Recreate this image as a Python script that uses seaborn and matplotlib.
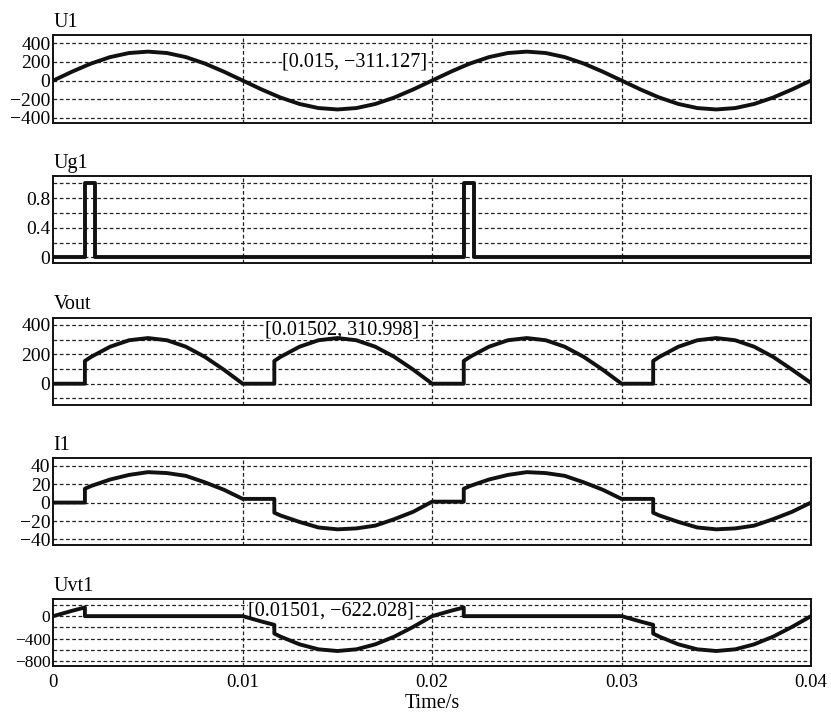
import matplotlib
matplotlib.use('Agg')
import matplotlib.pyplot as plt
import seaborn as sns
import pandas as pd

# time axis (s), jumps at the firing instants are repeated
t = [0.0, 0.001, 0.00167, 0.00167, 0.002, 0.003, 0.004, 0.005, 0.006, 0.007, 0.008, 0.009, 0.010,
     0.011, 0.01167, 0.01167, 0.012, 0.013, 0.014, 0.015, 0.016, 0.017, 0.018, 0.019, 0.020,
     0.021, 0.02167, 0.02167, 0.022, 0.023, 0.024, 0.025, 0.026, 0.027, 0.028, 0.029, 0.030,
     0.031, 0.03167, 0.03167, 0.032, 0.033, 0.034, 0.035, 0.036, 0.037, 0.038, 0.039, 0.040]

u1 = [0, 96, 155, 155, 183, 252, 296, 311, 296, 252, 183, 96, 0,
      -96, -155, -155, -183, -252, -296, -311, -296, -252, -183, -96, 0,
      96, 155, 155, 183, 252, 296, 311, 296, 252, 183, 96, 0,
      -96, -155, -155, -183, -252, -296, -311, -296, -252, -183, -96, 0]

vout = [0, 0, 0, 155, 183, 252, 296, 311, 296, 252, 183, 96, 0,
        0, 0, 155, 183, 252, 296, 311, 296, 252, 183, 96, 0,
        0, 0, 155, 183, 252, 296, 311, 296, 252, 183, 96, 0,
        0, 0, 155, 183, 252, 296, 311, 296, 252, 183, 96, 5]

i1 = [0, 0, 0, 15, 18, 25, 30, 33, 32, 29, 22, 14, 4,
      4, 4, -11, -14, -21, -27, -29, -28, -25, -18, -10, 1,
      1, 1, 15, 18, 25, 30, 33, 32, 29, 22, 14, 4,
      4, 4, -11, -14, -21, -27, -29, -28, -25, -18, -10, 0]

uvt1 = [0, 96, 155, 0, 0, 0, 0, 0, 0, 0, 0, 0, 0,
        -96, -155, -311, -366, -503, -592, -622, -592, -503, -366, -192, 0,
        96, 155, 0, 0, 0, 0, 0, 0, 0, 0, 0, 0,
        -96, -155, -311, -366, -503, -592, -622, -592, -503, -366, -192, 0]

# gate pulses
t_gate = [0.0, 0.00167, 0.00167, 0.0022, 0.0022, 0.02167, 0.02167, 0.0222, 0.0222, 0.040]
ug1 = [0, 0, 1, 1, 0, 0, 1, 1, 0, 0]

# grid lines / tick labels per panel
u1_ticks = [-400, -200, 0, 200, 400]
u1_labels = ['\u2212400', '\u2212200', '0', '200', '400']
ug1_ticks = [0, 0.2, 0.4, 0.6, 0.8, 1.0]
ug1_labels = ['0', '', '0.4', '', '0.8', '']
vout_ticks = [-100, 0, 100, 200, 300, 400]
vout_labels = ['', '0', '', '200', '', '400']
i1_ticks = [-40, -20, 0, 20, 40]
i1_labels = ['\u221240', '\u221220', '0', '20', '40']
uvt1_ticks = [-800, -600, -400, -200, 0, 200]
uvt1_labels = ['\u2212800', '', '\u2212400', '', '0', '']
x_ticks = [0, 0.01, 0.02, 0.03, 0.04]
x_labels = ['0', '0.01', '0.02', '0.03', '0.04']

sns.set_theme(style='white')
plt.rcParams['font.family'] = ['Liberation Serif', 'DejaVu Serif']
plt.rcParams['text.color'] = 'black'
plt.rcParams['axes.labelcolor'] = 'black'
plt.rcParams['xtick.color'] = 'black'
plt.rcParams['ytick.color'] = 'black'

fig = plt.figure(figsize=(8.31, 7.14), dpi=100)

left, width = 0.0641, 0.9118
panels = [
    ('U1', t, u1, (0.8273, 0.1237), (-460, 490), u1_ticks, u1_labels, 14),
    ('Ug1', t_gate, ug1, (0.6312, 0.1223), (-0.08, 1.1), ug1_ticks, ug1_labels, 14),
    ('Vout', t, vout, (0.4328, 0.1223), (-145, 450), vout_ticks, vout_labels, 14),
    ('I1', t, i1, (0.2367, 0.1214), (-46, 48), i1_ticks, i1_labels, 14),
    ('Uvt1', t, uvt1, (0.0672, 0.0934), (-890, 300), uvt1_ticks, uvt1_labels, 12.5),
]

axes = []
for name, xs, ys, (bottom, height), ylim, yt, yl, fs in panels:
    ax = fig.add_axes([left, bottom, width, height])
    df = pd.DataFrame({'t': xs, 'v': ys})
    sns.lineplot(data=df, x='t', y='v', ax=ax, estimator=None, sort=False,
                 color='#111111', linewidth=2.8, zorder=3)
    ax.set_xlim(0, 0.04)
    ax.set_ylim(*ylim)
    ax.set_yticks(yt)
    ax.set_yticklabels(yl, fontsize=fs)
    ax.set_xticks(x_ticks)
    ax.set_xticklabels([])
    ax.set_xlabel('')
    ax.set_ylabel('')
    ax.tick_params(length=0, pad=2)
    for v in yt:
        ax.axhline(v, color='#222222', lw=0.9, ls=(0, (3, 2)), zorder=1)
    for v in [0.01, 0.02, 0.03]:
        ax.axvline(v, color='#222222', lw=0.9, ls=(0, (3, 2)), zorder=1)
    for s in ax.spines.values():
        s.set_color('#111111')
        s.set_linewidth(1.4)
    ax.set_title(name, loc='left', fontsize=14.5, pad=6)
    axes.append(ax)

# data tips (white box hides the grid, the curve stays on top)
tip = dict(facecolor='white', edgecolor='none', pad=0.5)
axes[0].text(0.0121, 200, '[0.015, \u2212311.127]', fontsize=14.5, va='center', ha='left', bbox=tip, zorder=2)
axes[2].text(0.0112, 365, '[0.01502, 310.998]', fontsize=14.5, va='center', ha='left', bbox=tip, zorder=2)
axes[4].text(0.0103, 100, '[0.01501, \u2212622.028]', fontsize=14.5, va='center', ha='left', bbox=tip, zorder=2)

axes[4].set_xticklabels(x_labels, fontsize=13.5)
axes[4].tick_params(axis='x', pad=6)
axes[4].set_xlabel('Time/s', fontsize=14.5, labelpad=2)

fig.savefig('out.png', dpi=100)
